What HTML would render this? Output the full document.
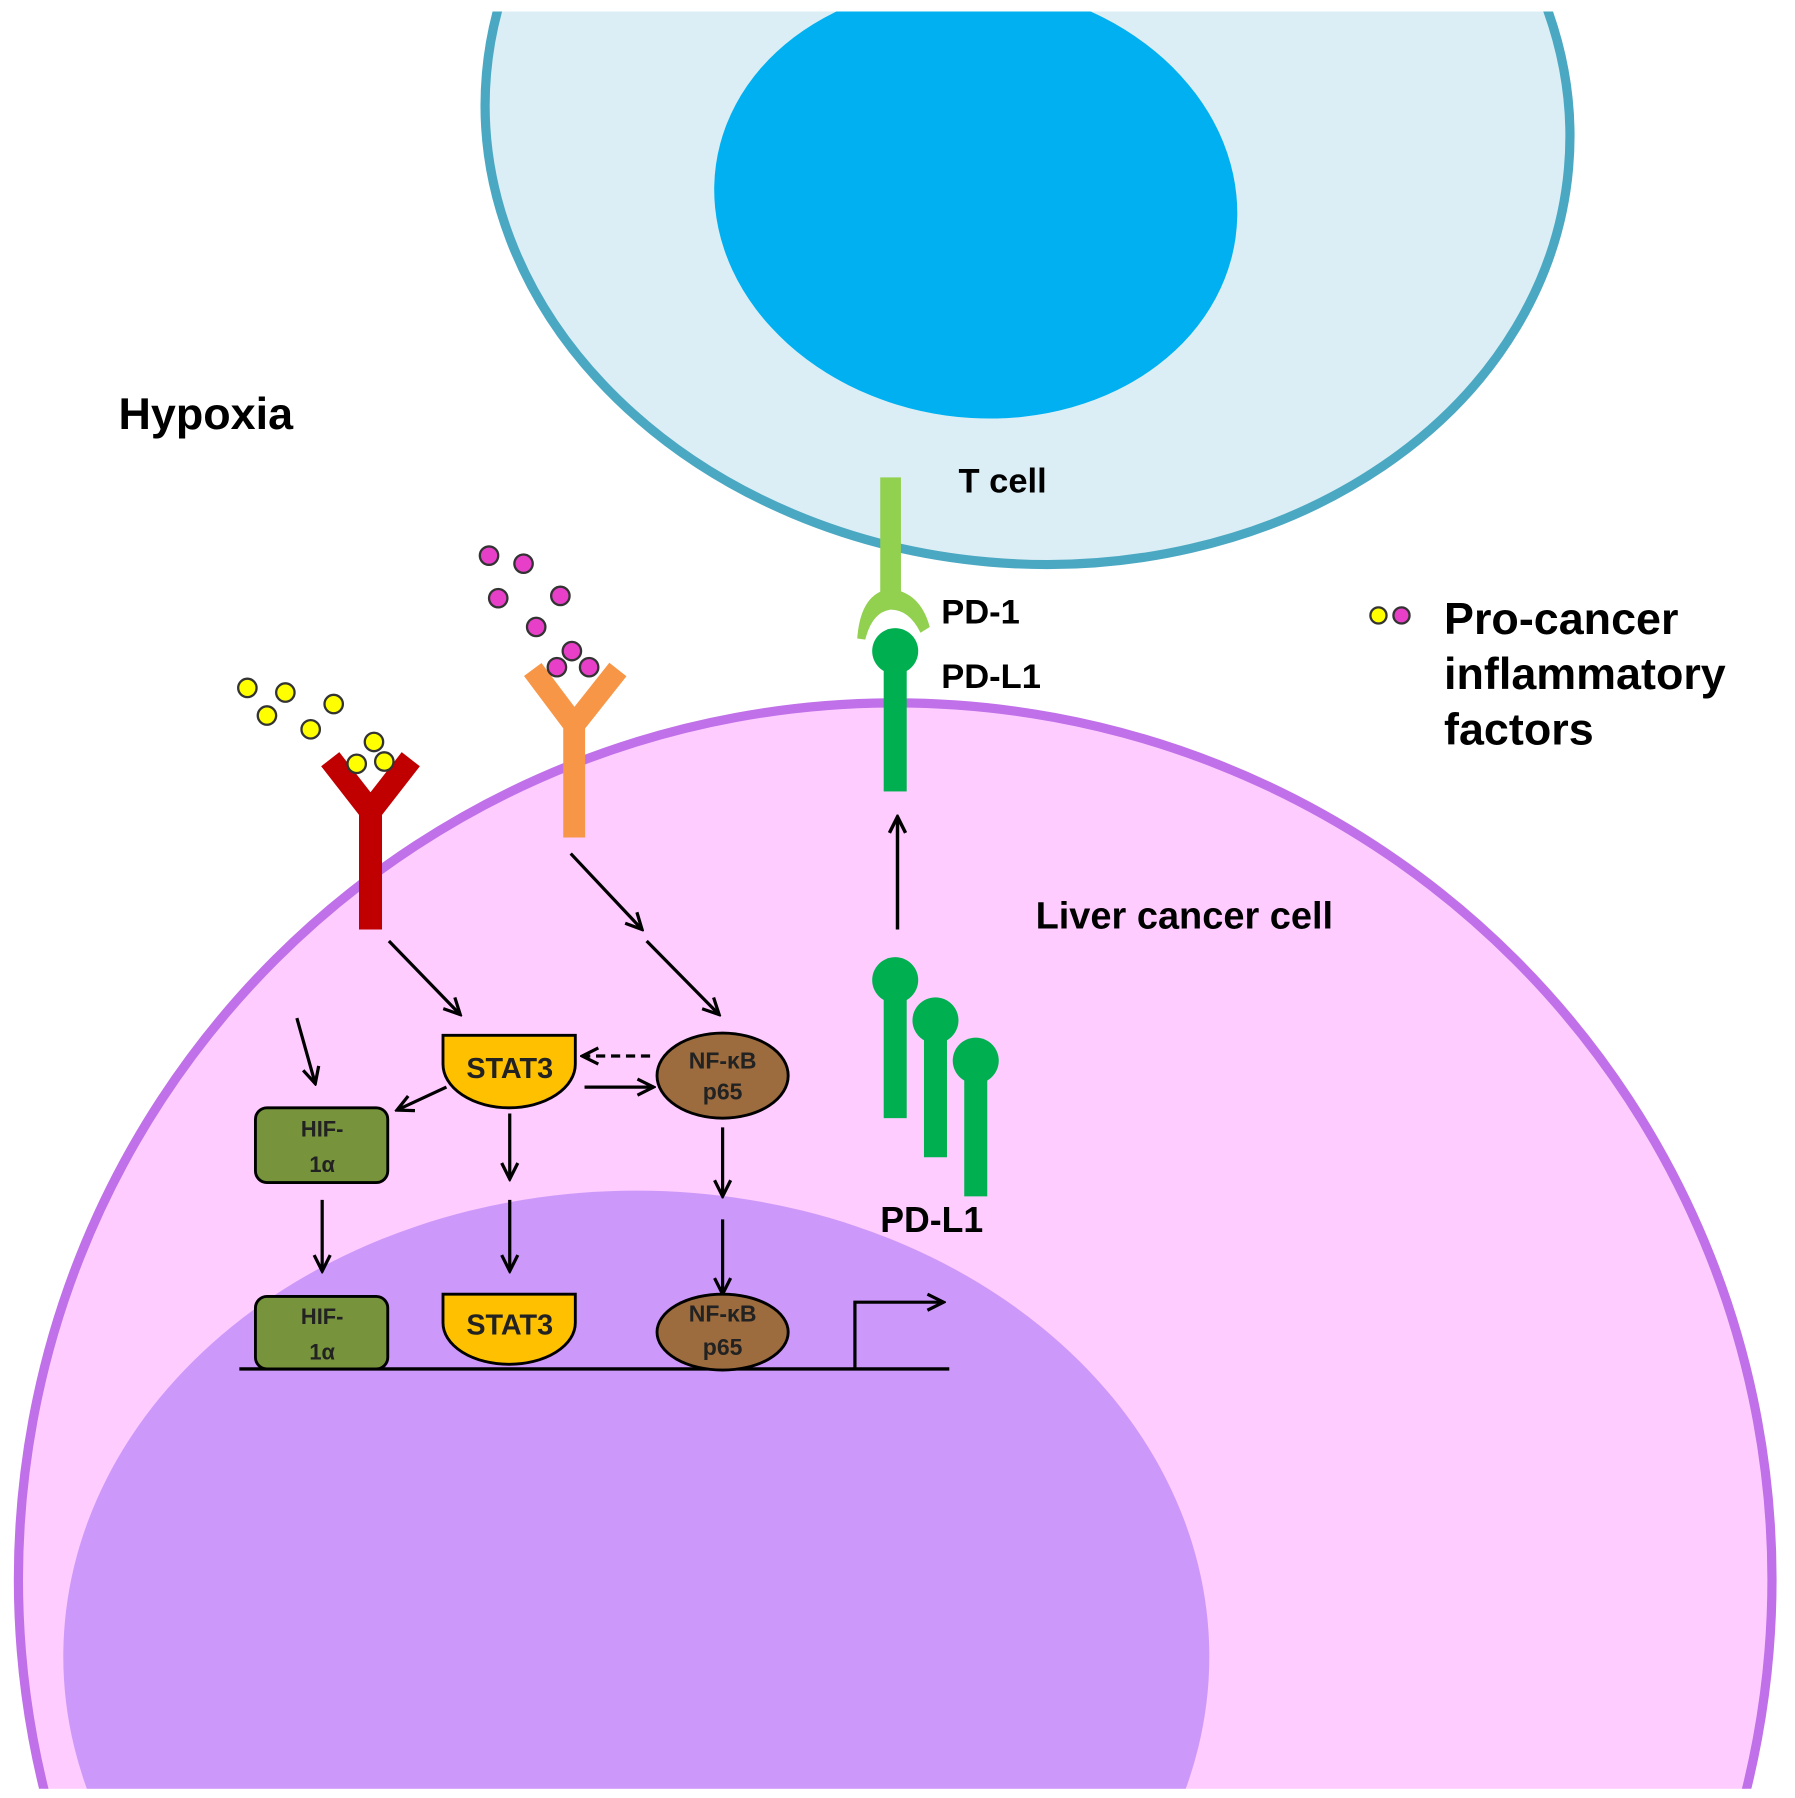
<!DOCTYPE html>
<html><head><meta charset="utf-8"><style>html,body{margin:0;padding:0;background:#fff;overflow:hidden;width:1795px;height:1798px}svg{display:block}</style></head>
<body>
<svg width="1795" height="1798" viewBox="0 0 1560 1563" preserveAspectRatio="none" xmlns="http://www.w3.org/2000/svg" font-family="Liberation Sans, sans-serif">
<defs>
<marker id="a" viewBox="0 0 18 18" refX="16" refY="9" markerWidth="18" markerHeight="18" markerUnits="userSpaceOnUse" orient="auto"><path d="M2,2 L16,9 L2,16" fill="none" stroke="#000" stroke-width="2.8"/></marker>
<marker id="b" viewBox="0 0 18 18" refX="16" refY="9" markerWidth="18" markerHeight="18" markerUnits="userSpaceOnUse" orient="auto"><path d="M2,2 L16,9 L2,16" fill="none" stroke="#000" stroke-width="3"/></marker>
<clipPath id="c"><rect x="0" y="10" width="1560" height="1545"/></clipPath>
</defs>
<rect width="1560" height="1563" fill="#fff"/>
<g clip-path="url(#c)">
<ellipse cx="893" cy="105" rx="472" ry="385" transform="rotate(5 893 105)" fill="#dbeef5" stroke="#4ba8c2" stroke-width="8"/>
<ellipse cx="848" cy="175" rx="228" ry="188" transform="rotate(8 848 175)" fill="#00b0f0"/>
<circle cx="778" cy="1373" r="762" fill="#ffccff" stroke="#c070e8" stroke-width="8"/>
<ellipse cx="553" cy="1440" rx="498" ry="405" fill="#cc99fa"/>
</g>
<text x="103" y="373" font-size="39" font-weight="bold">Hypoxia</text>
<text x="833" y="428" font-size="30" font-weight="bold">T cell</text>
<text x="818" y="542" font-size="30" font-weight="bold">PD-1</text>
<text x="818" y="598" font-size="30" font-weight="bold">PD-L1</text>
<text x="900" y="807" font-size="33" font-weight="bold">Liver cancer cell</text>
<text x="765" y="1071" font-size="31" font-weight="bold">PD-L1</text>
<text x="1255" y="551" font-size="39" font-weight="bold">Pro-cancer</text>
<text x="1255" y="599" font-size="39" font-weight="bold">inflammatory</text>
<text x="1255" y="647" font-size="39" font-weight="bold">factors</text>
<circle cx="1198" cy="535" r="7" fill="#ffff00" stroke="#333" stroke-width="2"/>
<circle cx="1218" cy="535" r="7" fill="#e83fc8" stroke="#333" stroke-width="2"/>
<rect x="765" y="415" width="18" height="110" fill="#92d050"/>
<path d="M745,555 Q748,515 774,512 Q800,515 808,545 L800,550 Q790,530 774,530 Q758,532 752,556 Z" fill="#92d050"/>
<circle cx="778" cy="566" r="20" fill="#00b050"/>
<rect x="768" y="566" width="20" height="122" fill="#00b050"/>
<line x1="780" y1="808" x2="780" y2="710" stroke="#000" stroke-width="3" marker-end="url(#b)"/>
<rect x="768" y="852" width="20" height="120" fill="#00b050"/><circle cx="778" cy="852" r="20" fill="#00b050"/>
<rect x="803" y="887" width="20" height="119" fill="#00b050"/><circle cx="813" cy="887" r="20" fill="#00b050"/>
<rect x="838" y="922" width="20" height="118" fill="#00b050"/><circle cx="848" cy="922" r="20" fill="#00b050"/>
<path d="M322,808 L322,700 M322,705 L287,660 M322,705 L357,660" stroke="#c00000" stroke-width="20" fill="none"/>
<g fill="#ffff00" stroke="#333" stroke-width="2">
<circle cx="215" cy="598" r="8"/><circle cx="248" cy="602" r="8"/><circle cx="232" cy="622" r="8"/><circle cx="290" cy="612" r="8"/><circle cx="270" cy="634" r="8"/><circle cx="325" cy="645" r="8"/><circle cx="310" cy="664" r="8"/><circle cx="334" cy="662" r="8"/>
</g>
<path d="M499,728 L499,625 M499,630 L463,582 M499,630 L537,582" stroke="#f79646" stroke-width="19" fill="none"/>
<g fill="#e83fc8" stroke="#333" stroke-width="2">
<circle cx="425" cy="483" r="8"/><circle cx="455" cy="490" r="8"/><circle cx="433" cy="520" r="8"/><circle cx="487" cy="518" r="8"/><circle cx="466" cy="545" r="8"/><circle cx="497" cy="566" r="8"/><circle cx="484" cy="580" r="8"/><circle cx="512" cy="580" r="8"/>
</g>
<g stroke="#000" stroke-width="2.8" fill="none" marker-end="url(#a)">
<line x1="338" y1="818" x2="400" y2="882"/>
<line x1="258" y1="885" x2="274" y2="942"/>
<line x1="496" y1="742" x2="558" y2="808"/>
<line x1="562" y1="818" x2="625" y2="882"/>
<line x1="508" y1="945" x2="568" y2="945"/>
<line x1="388" y1="945" x2="345" y2="965"/>
<line x1="443" y1="968" x2="443" y2="1025"/>
<line x1="628" y1="980" x2="628" y2="1040"/>
<line x1="280" y1="1043" x2="280" y2="1105"/>
<line x1="443" y1="1043" x2="443" y2="1105"/>
<line x1="628" y1="1060" x2="628" y2="1125"/>
<line x1="565" y1="918" x2="506" y2="918" stroke-dasharray="8,5"/>
<polyline points="743,1190 743,1132 820,1132"/>
</g>
<line x1="208" y1="1190" x2="825" y2="1190" stroke="#000" stroke-width="3"/>
<g stroke="#000" stroke-width="2.5">
<path d="M385,900 L500,900 L500,925 A57.5,38 0 0 1 385,925 Z" fill="#ffc000"/>
<ellipse cx="628" cy="935" rx="57" ry="37" fill="#9c6b3e"/>
<rect x="222" y="963" width="115" height="65" rx="10" fill="#77933c"/>
<rect x="222" y="1127" width="115" height="63" rx="10" fill="#77933c"/>
<path d="M385,1125 L500,1125 L500,1150 A57.5,36 0 0 1 385,1150 Z" fill="#ffc000"/>
<ellipse cx="628" cy="1158" rx="57" ry="33" fill="#9c6b3e"/>
</g>
<g font-weight="bold" text-anchor="middle" fill="#222">
<text x="443" y="937" font-size="25">STAT3</text>
<text x="443" y="1160" font-size="25">STAT3</text>
<text x="628" y="929" font-size="20">NF-κB</text><text x="628" y="956" font-size="20">p65</text>
<text x="628" y="1149" font-size="20">NF-κB</text><text x="628" y="1178" font-size="20">p65</text>
<text x="280" y="988" font-size="19">HIF-</text><text x="280" y="1019" font-size="19">1α</text>
<text x="280" y="1151" font-size="19">HIF-</text><text x="280" y="1182" font-size="19">1α</text>
</g>
</svg>
</body></html>
